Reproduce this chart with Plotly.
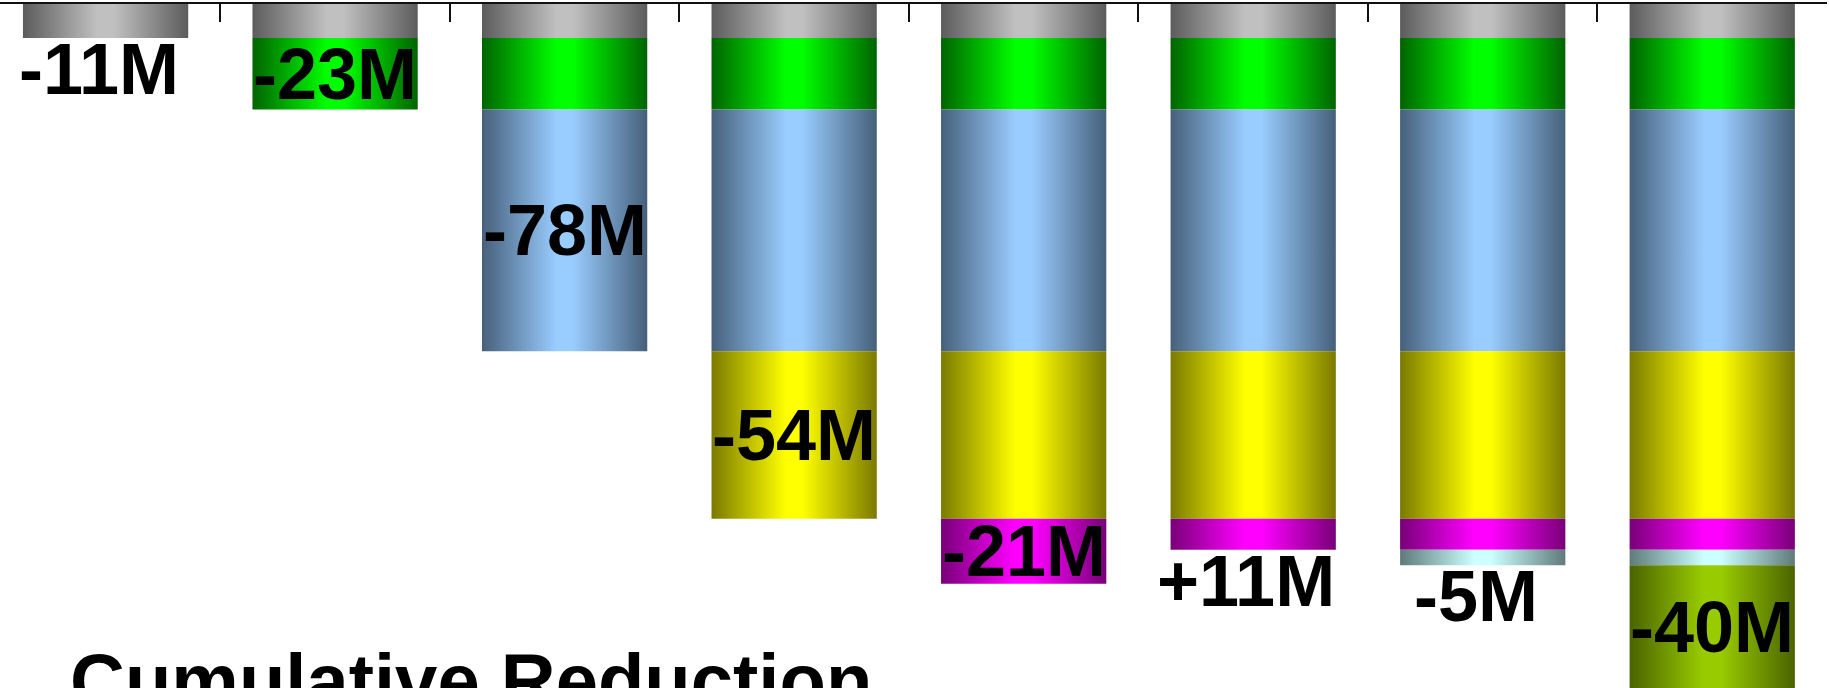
import plotly.graph_objects as go

# ---- data ----
positions = [0, 1, 2, 3, 4, 5, 6, 7]
deltas = [-11, -23, -78, -54, -21, 11, -5, -40]
labels = ["-11M", "-23M", "-78M", "-54M", "-21M", "+11M", "-5M", "-40M"]
seg_light = ["#c0c0c0", "#00ff00", "#99ccff", "#ffff00", "#ff00ff", None, "#ccffff", "#99cc00"]
seg_dark = ["#5c5c5c", "#006400", "#46607a", "#7a7a00", "#780078", None, "#5f7a7a", "#4a6300"]
footer_text = "Cumulative Reduction"

BAR_W = 0.72
LABEL_FONT = dict(family="Liberation Sans, Arial, sans-serif", size=72, color="black", weight="bold")


def cyl_scale(dark, light):
    return [[0.0, dark], [0.45, light], [0.55, light], [1.0, dark]]


fig = go.Figure()
stack = []
annotations = []
for i, (x, d) in enumerate(zip(positions, deltas)):
    if d < 0:
        stack.append([i, -d])
    else:
        rem = d
        while rem > 0 and stack:
            take = min(rem, stack[-1][1])
            stack[-1][1] -= take
            rem -= take
            if stack[-1][1] == 0:
                stack.pop()
    top = 0
    x0, x1 = x - BAR_W / 2, x + BAR_W / 2
    for k, m in stack:
        bottom = top - m
        fig.add_trace(go.Scatter(
            x=[x0, x1, x1, x0, x0], y=[top, top, bottom, bottom, top],
            mode="lines", line=dict(width=0), fill="toself",
            fillgradient=dict(type="horizontal", colorscale=cyl_scale(seg_dark[k], seg_light[k]),
                              start=x0, stop=x1),
            hoverinfo="skip", showlegend=False))
        top = bottom
    end = top
    if d < 0 and -d >= 20:
        annotations.append(dict(x=x, y=end - d / 2, xref="x", yref="y", text=labels[i],
                                showarrow=False, font=LABEL_FONT, xanchor="center", yanchor="middle"))
    else:
        annotations.append(dict(x=x, y=end, xref="x", yref="y", text=labels[i], showarrow=False,
                                font=LABEL_FONT, xanchor="center", yanchor="middle",
                                yshift=-31, xshift=-7))

annotations.append(dict(x=0.037, y=0.076, xref="paper", yref="paper", text=footer_text,
                        showarrow=False, xanchor="left", yanchor="top",
                        font=dict(family="Liberation Sans, Arial, sans-serif", size=76,
                                  color="black", weight="bold")))

fig.update_layout(
    width=1829, height=688,
    margin=dict(l=0, r=2, t=4, b=0),
    paper_bgcolor="white", plot_bgcolor="white",
    showlegend=False,
    annotations=annotations,
    xaxis=dict(range=[-0.46, 7.5], side="top", showline=True, linecolor="#111", linewidth=2,
               ticks="inside", ticklen=18, tickwidth=2, tickcolor="#111",
               tickvals=[p + 0.5 for p in positions], showticklabels=False,
               showgrid=False, zeroline=False),
    yaxis=dict(range=[-220.6, 0], visible=False, showgrid=False, zeroline=False),
)

fig.write_html("out.html")
